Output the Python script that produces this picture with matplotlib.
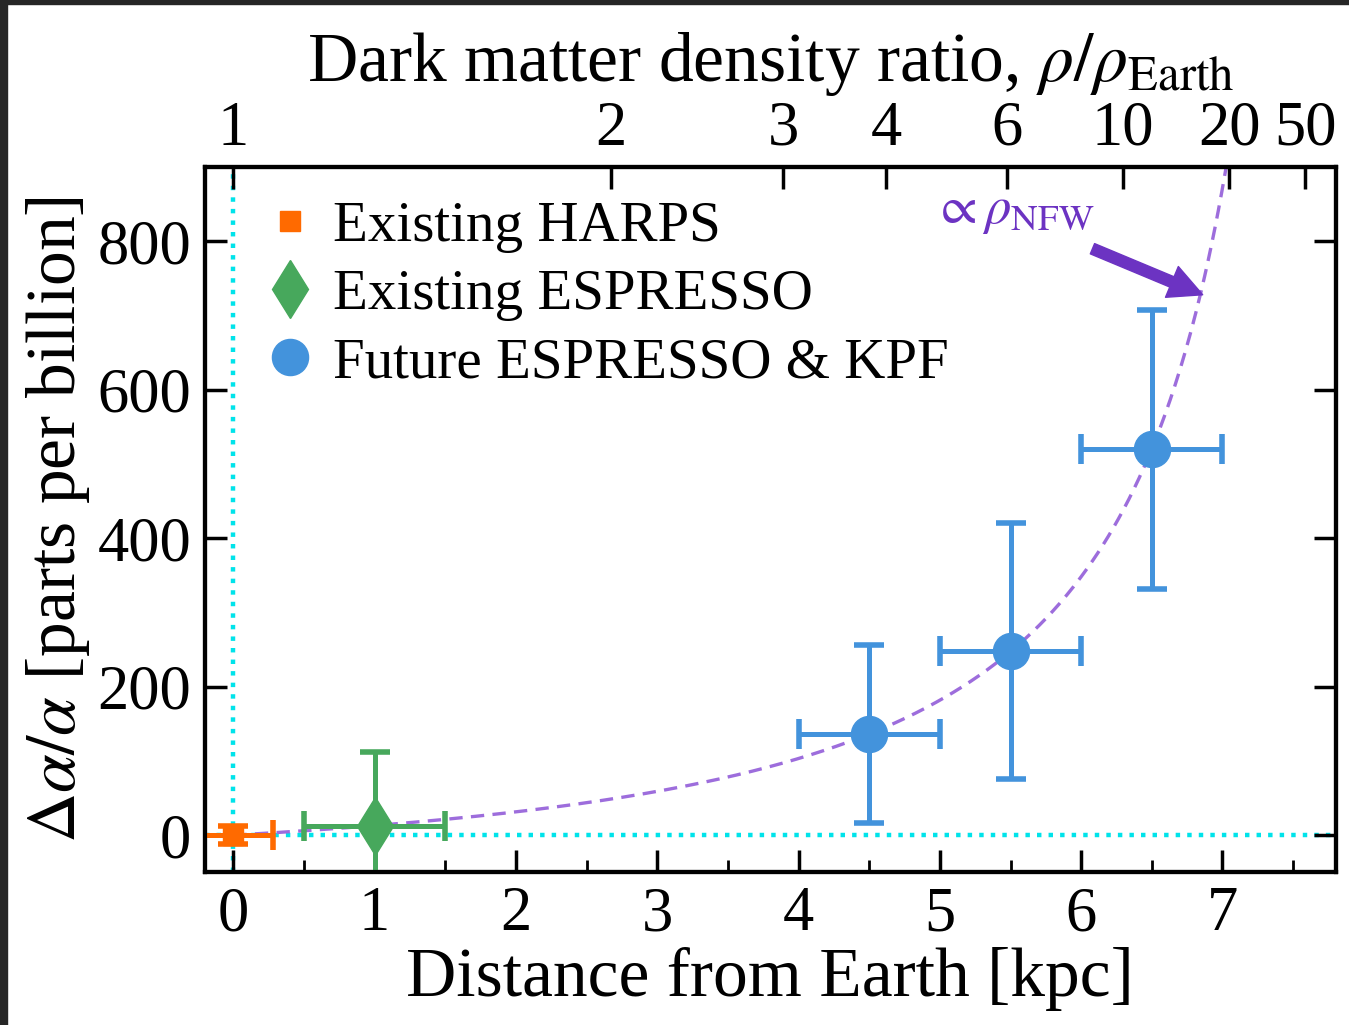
import numpy as np
import matplotlib
matplotlib.use("Agg")
import matplotlib.pyplot as plt
from matplotlib.lines import Line2D
from matplotlib.patches import Rectangle

plt.rcParams["font.family"] = ["Liberation Serif", "DejaVu Serif"]
plt.rcParams["mathtext.fontset"] = "stix"

# Measurements / forecasts (distance [kpc], delta alpha/alpha [ppb])
harps_x, harps_y = [0.0], [0.0]
harps_xerr, harps_yerr = [0.28], [12]

espresso_x, espresso_y = [1.0], [12]
espresso_xerr, espresso_yerr = [0.5], [100]

future_x = [4.5, 5.5, 6.5]
future_y = [136, 248, 520]
future_xerr = [0.5, 0.5, 0.5]
future_yerr = [120, 172, 188]

# top axis: dark matter density ratio labels
density_ticks = [1, 2, 3, 4, 6, 10, 20, 50]

# NFW model used for the dashed curve and the top axis
R_sun = 8.0     # kpc
r_s = 12.0      # kpc
amp = 48.6      # ppb per unit of (rho/rho_Earth - 1)


def nfw_ratio(d):
    r = R_sun - d
    return (R_sun / r) * ((1 + R_sun / r_s) / (1 + r / r_s)) ** 2


c_orange = "#ff6a00"
c_green = "#47a85c"
c_blue = "#4393dc"
c_purple = "#9d6ddc"
c_arrow = "#6c33c2"
c_cyan = "#00e3ea"

fig = plt.figure(figsize=(13.49, 10.25), dpi=100)
ax = fig.add_axes([0.152, 0.149, 0.838, 0.688])

ax.axvline(0, color=c_cyan, ls=(0, (1, 1.6)), lw=3.2, zorder=1)
ax.axhline(0, color=c_cyan, ls=(0, (1, 1.6)), lw=3.2, zorder=1)

d_curve = np.linspace(0, 7.3, 600)
ax.plot(d_curve, amp * (nfw_ratio(d_curve) - 1), color=c_purple, ls=(0, (4, 2.5)),
        lw=2.4, zorder=2)

ekw = dict(linestyle="none", elinewidth=3.6, capsize=11, capthick=4, zorder=3)
ax.errorbar(harps_x, harps_y, xerr=harps_xerr, yerr=harps_yerr, marker="s",
            ms=14, color=c_orange, **ekw)
ax.errorbar(espresso_x, espresso_y, xerr=espresso_xerr, yerr=espresso_yerr,
            marker="d", ms=30, color=c_green, **ekw)
ax.errorbar(future_x, future_y, xerr=future_xerr, yerr=future_yerr, marker="o",
            ms=26, color=c_blue, **ekw)

ax.text(4.95, 840, r"$\propto\rho_{\rm NFW}$", color=c_arrow, fontsize=38,
        ha="left", va="center")
ax.annotate("", xy=(6.86, 728), xytext=(6.08, 790),
            arrowprops=dict(color=c_arrow, width=8, headwidth=24, headlength=24,
                            shrink=0))

ax.set_xlim(-0.2, 7.8)
ax.set_ylim(-50, 900)
ax.set_xticks(range(0, 8))
ax.set_xticks(np.arange(-0.0, 7.8, 0.5), minor=True)
ax.set_yticks([0, 200, 400, 600, 800])
ax.tick_params(axis="both", which="major", direction="in", length=16, width=2.5,
               labelsize=45, pad=10)
ax.tick_params(axis="x", which="minor", direction="in", length=9, width=2.0)
ax.tick_params(axis="y", which="both", right=True)
ax.tick_params(axis="y", which="minor", left=False, right=False)
for sp in ax.spines.values():
    sp.set_linewidth(3)

ax.set_xlabel("Distance from Earth [kpc]", fontsize=50, labelpad=2)
ax.set_ylabel(r"$\Delta\alpha/\alpha$ [parts per billion]", fontsize=50, labelpad=4)

# top axis with density ratio
grid = np.linspace(0, 7.95, 20000)
top_pos = np.interp(density_ticks, nfw_ratio(grid), grid)
top = ax.twiny()
top.set_xlim(ax.get_xlim())
top.set_xticks(top_pos)
top.set_xticklabels([str(t) for t in density_ticks])
top.tick_params(axis="x", direction="in", length=16, width=2.5, labelsize=45, pad=6)
top.set_xlabel(r"Dark matter density ratio, $\rho/\rho_{\rm Earth}$", fontsize=50,
               labelpad=14)
for sp in top.spines.values():
    sp.set_linewidth(3)

handles = [
    Line2D([], [], ls="none", marker="s", ms=14, color=c_orange),
    Line2D([], [], ls="none", marker="d", ms=30, color=c_green),
    Line2D([], [], ls="none", marker="o", ms=26, color=c_blue),
]
labels = ["Existing HARPS", "Existing ESPRESSO", "Future ESPRESSO & KPF"]
ax.legend(handles, labels, loc="upper left", fontsize=41, frameon=False,
          handlelength=0.6, handletextpad=0.45, labelspacing=0.28,
          borderaxespad=0.2, bbox_to_anchor=(0.03, 1.0))

# dark screenshot frame on the left and top edges
fig.patches.append(Rectangle((0, 0), 7 / 1349, 1, transform=fig.transFigure,
                             color="#262626", zorder=10))
fig.patches.append(Rectangle((0, 1 - 4 / 1025), 1, 4 / 1025,
                             transform=fig.transFigure, color="#262626", zorder=10))

fig.savefig("out.png", dpi=100)
